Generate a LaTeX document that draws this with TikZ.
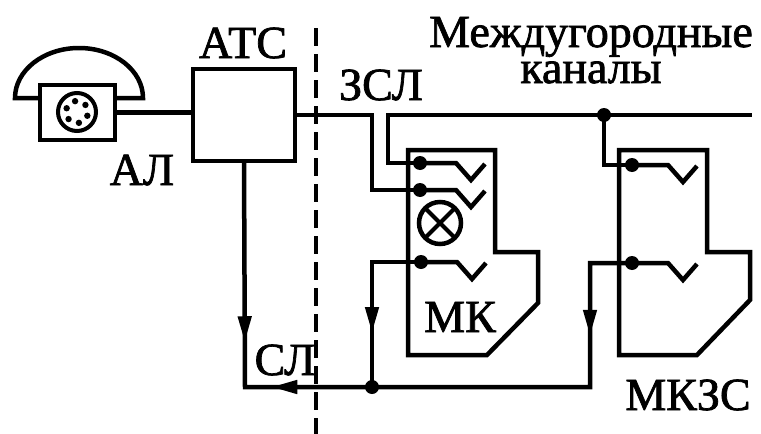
\documentclass[tikz,border=0pt]{standalone}
\usepackage{fontspec}
\setmainfont{Liberation Serif}
\newfontfamily\heavyserif{Liberation Serif}[FakeBold=1.6]
\usetikzlibrary{arrows.meta,decorations.markings,calc}
\tikzset{
  wire/.style={line width=4.5pt, line join=miter, line cap=rect},
  box/.style={draw, line width=4.5pt, fill=white, inner sep=0pt},
  dot/.style={fill, circle, inner sep=0pt, minimum size=14pt},
  lbl/.style={font=\heavyserif\fontsize{46}{36}\selectfont, inner sep=0pt, anchor=base},
  bigtri/.tip={Triangle[length=26pt,width=13pt]},
}
\begin{document}
\begin{tikzpicture}[x=1pt,y=-1pt]
\useasboundingbox (0,0) rectangle (761,434);
% telephone
\draw[wire, fill=white] (15,98) arc[start angle=180, end angle=360, x radius=64, y radius=50] -- cycle;
\node[box, minimum width=75pt, minimum height=55pt] (body) at (77.5,112.5) {};
\draw[line width=4pt] (77,112) circle[radius=19];
\foreach \a in {20,80,140,200,260,320} \fill ($(77,112)+(\a:11)$) circle[radius=3.2];
% ATC
\node[box, minimum width=102pt, minimum height=92pt] (atc) at (244,115) {};
\node[lbl] (atcl) at (243,58) {АТС};
\node[lbl] (al) at (142,185) {АЛ};
\node[lbl] (zsl) at (381,100) {ЗСЛ};
\node[lbl, align=center] (md) at (591,83) {Междугородные\\каналы};
\node[lbl] (sl) at (285,375) {СЛ};
\node[lbl] (mkl) at (460,332) {МК};
\node[lbl] (mkzsl) at (688,410) {МКЗС};
% dashed border
\coordinate (dtop) at (316,28);
\coordinate (dbot) at (316,434);
\draw[line width=3.5pt, dash pattern=on 18pt off 8pt] (dtop) -- (dbot);
% boxes
\draw[wire] (408,150) -- (495,150) -- (495,252) -- (538,252) -- (538,303) -- (487,355) -- (408,355) -- cycle;
\draw[wire] (619,150) -- (707,150) -- (707,252) -- (750,252) -- (750,300) -- (697,355) -- (619,355) -- cycle;
% contacts
\coordinate (k1) at (420,163);
\coordinate (k2) at (420,190);
\coordinate (k3) at (421,262);
\coordinate (k4) at (632,165);
\coordinate (k5) at (632,263);
\coordinate (j1) at (604,115);
\coordinate (j2) at (372,387);
\coordinate (chend) at (750,115);
\coordinate (ch0) at (388,163);
\coordinate (zs) at (372,190);
\coordinate (bl) at (245,387);
\coordinate (br) at (590,387);
\coordinate (mz) at (590,263);
\coordinate (mk3) at (372,262);
% wires
\draw[wire] (body.east) -- (body.east -| atc.west);
\draw[wire] (atc.east) -| (zs) -- (k2);
\draw[wire] (chend) -| (ch0) -- (k1);
\draw[wire] (j1) |- (k4);
\draw[wire, postaction={decorate}, decoration={markings,
   mark=at position 179pt with {\arrow{bigtri}},
   mark=at position 250pt with {\arrowreversed{bigtri}},
   mark=at position 620pt with {\arrowreversed{bigtri}}}]
   (atc.south) -- (bl) -- (br) -- (mz) -- (k5);
\draw[wire, postaction={decorate}, decoration={markings,
   mark=at position 120pt with {\arrow{bigtri}}}]
   (k3) -- (mk3) -- (j2);
% switches
\foreach \k in {k1,k2,k3,k4,k5}
  \draw[line width=4.5pt, line join=miter] (\k) -- ++(36,0) -- ++(15,17) -- ++(14,-16);
% lamp
\draw[line width=4.5pt] (440,223) circle[radius=21];
\draw[line width=4pt] (440,223) ++(-15,-15) -- ++(30,30) ++(0,-30) -- ++(-30,30);
% dots
\foreach \k in {k1,k2,k3,k4,k5,j1,j2} \node[dot] at (\k) {};
\end{tikzpicture}
\end{document}
